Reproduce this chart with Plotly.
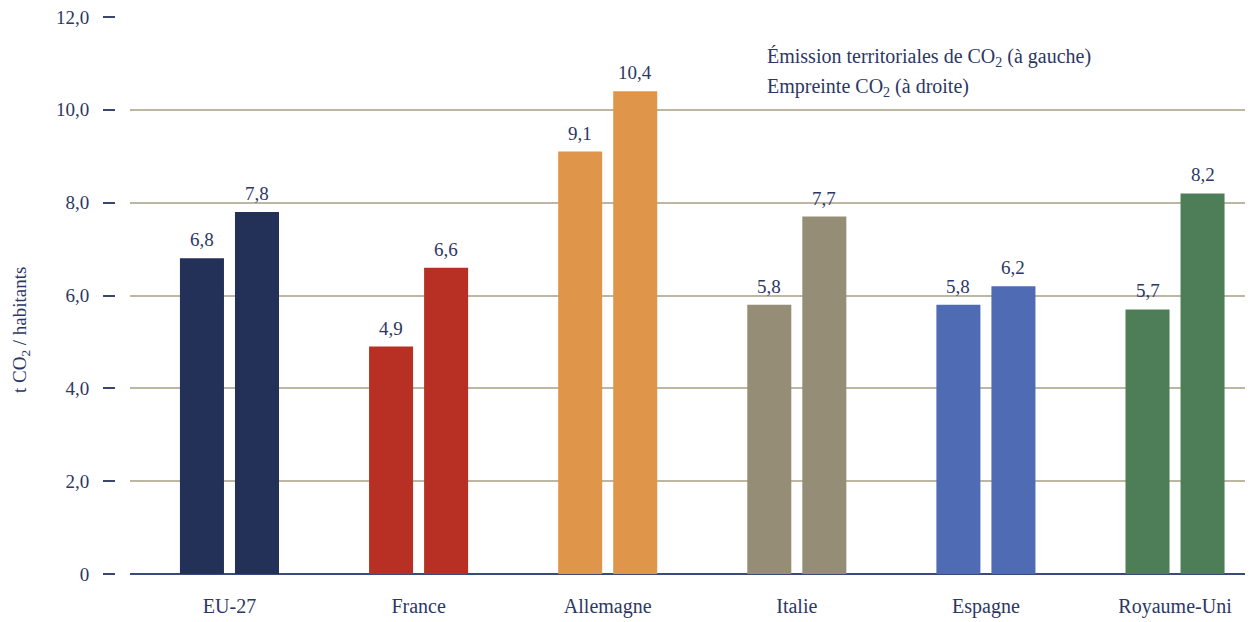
import plotly.graph_objects as go

categories = ["EU-27", "France", "Allemagne", "Italie", "Espagne", "Royaume-Uni"]
territorial = [6.8, 4.9, 9.1, 5.8, 5.8, 5.7]
empreinte = [7.8, 6.6, 10.4, 7.7, 6.2, 8.2]
colors = ["#233058", "#b83024", "#e0964a", "#958d75", "#4e6bb3", "#4e7e58"]
y_tickvals = [0, 2, 4, 6, 8, 10, 12]
y_ticktext = ["0", "2,0", "4,0", "6,0", "8,0", "10,0", "12,0"]

legend_lines = ["Émission territoriales de CO<sub>2</sub> (à gauche)",
                "Empreinte CO<sub>2</sub> (à droite)"]

FONT = "Liberation Serif, 'Times New Roman', serif"
TXT = "#2c3764"

def fmt(v):
    return f"{v:.1f}".replace(".", ",")

fig = go.Figure()
for name, vals in [("territorial", territorial), ("empreinte", empreinte)]:
    fig.add_trace(go.Bar(
        x=categories, y=vals, name=name,
        marker=dict(color=colors, line=dict(width=0)),
        cliponaxis=False, showlegend=False,
    ))

W, H = 1254, 622
ml, mr, mt, mb = 0, 9, 17, 48
pw = W - ml - mr

annotations = []
for vals, xs in [(territorial, -27.5), (empreinte, 27.5)]:
    for c, v in zip(categories, vals):
        annotations.append(dict(
            text=fmt(v), x=c, y=v, xref="x", yref="y",
            xanchor="center", yanchor="bottom", xshift=xs, yshift=6,
            showarrow=False, font=dict(family=FONT, size=19, color=TXT)))

annotations += [
    dict(text="t CO<sub>2</sub> / habitants", textangle=-90,
         xref="paper", yref="paper", x=21 / pw, y=(574 - 330) / 557,
         xanchor="center", yanchor="middle", showarrow=False,
         font=dict(family=FONT, size=19, color=TXT)),
    dict(text=legend_lines[0], xref="paper", yref="paper",
         x=(765 - ml) / pw, y=(574 - 57) / 557, xanchor="left", yanchor="middle",
         showarrow=False, font=dict(family=FONT, size=20, color=TXT)),
    dict(text=legend_lines[1], xref="paper", yref="paper",
         x=(765 - ml) / pw, y=(574 - 87) / 557, xanchor="left", yanchor="middle",
         showarrow=False, font=dict(family=FONT, size=20, color=TXT)),
]

fig.update_layout(
    width=W, height=H,
    margin=dict(l=ml, r=mr, t=mt, b=mb),
    paper_bgcolor="white", plot_bgcolor="white",
    barmode="group", bargap=0.418, bargroupgap=0.2,
    font=dict(family=FONT, size=19, color=TXT),
    xaxis=dict(
        domain=[130 / pw, 1.0], range=[-0.526, 5.37],
        showgrid=False, showline=False, zeroline=False, ticks="",
        tickfont=dict(family=FONT, size=20, color=TXT),
        ticklabelstandoff=18, fixedrange=True,
    ),
    yaxis=dict(
        range=[0, 12], anchor="free", position=115 / pw,
        tickvals=y_tickvals, ticktext=y_ticktext,
        ticks="outside", ticklen=12, tickwidth=1.5, tickcolor="#3b4670",
        ticklabelstandoff=10,
        tickfont=dict(family=FONT, size=19, color=TXT),
        showgrid=True, gridcolor="#bdb6a2", gridwidth=1.5,
        zeroline=True, zerolinecolor="#3b4a7a", zerolinewidth=2,
        showline=False,
    ),
    annotations=annotations,
)

fig.write_html("out.html")
